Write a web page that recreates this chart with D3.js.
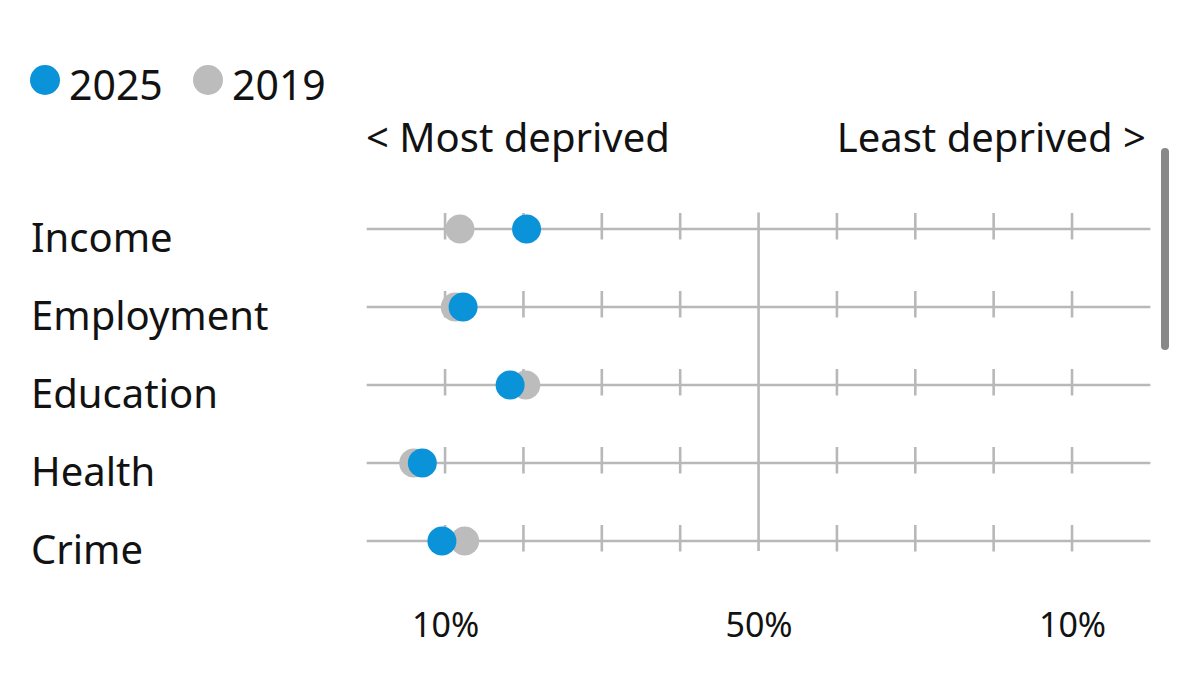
<!DOCTYPE html>
<html><head><meta charset="utf-8">
<script src="https://cdn.jsdelivr.net/npm/d3@7"></script>
<style>
html,body{margin:0;padding:0;background:#fff;overflow:hidden}
svg{display:block;font-family:"Noto Sans",sans-serif}
</style></head><body>
<svg id="c" width="1179" height="699"></svg>
<script>
const categories = ["Income","Employment","Education","Health","Crime"];
const values2019 = [11.9, 11.3, 20.3, 6.0, 12.5];
const values2025 = [20.4, 12.3, 18.3, 7.1, 9.6];
const tickValues = [10,20,30,40,50,60,70,80,90];
const tickLabels = {10:"10%", 50:"50%", 90:"10%"};
const seriesNames = ["2025","2019"];
const colors = {"2025":"#0b93da","2019":"#bcbcbc"};

const svg = d3.select("#c");
const x = d3.scaleLinear().domain([0,100]).range([366.7,1150.4]);
const y = d3.scalePoint().domain(categories).range([229,541]);
const lineColor = "#b8b8b8";
const textColor = "#121212";

// legend
const leg = svg.append("g");
seriesNames.forEach((s,i)=>{
  const lx = [45,208][i];
  leg.append("circle").attr("cx",lx).attr("cy",80).attr("r",15).attr("fill",colors[s]);
  leg.append("text").attr("x",lx+24).attr("y",100).attr("font-size",41).attr("fill",textColor).text(s);
});

svg.append("text").attr("x",366).attr("y",152).attr("font-size",40).attr("fill",textColor).text("< Most deprived");
svg.append("text").attr("x",1146).attr("y",152).attr("text-anchor","end").attr("font-size",40).attr("fill",textColor).text("Least deprived >");

// midline
svg.append("line").attr("x1",x(50)).attr("x2",x(50)).attr("y1",212.5).attr("y2",551)
  .attr("stroke",lineColor).attr("stroke-width",2.6);

const rows = svg.append("g").selectAll("g").data(categories).join("g")
  .attr("transform",d=>`translate(0,${y(d)})`);
rows.append("line").attr("x1",x(0)).attr("x2",x(100)).attr("stroke",lineColor).attr("stroke-width",2.7);
rows.each(function(){
  d3.select(this).selectAll("line.t").data(tickValues.filter(t=>t!==50)).join("line").attr("class","t")
    .attr("x1",d=>x(d)).attr("x2",d=>x(d)).attr("y1",-16).attr("y2",10.5)
    .attr("stroke",lineColor).attr("stroke-width",2.6);
});
rows.append("text").attr("x",31).attr("y",23).attr("font-size",40).attr("fill",textColor).text(d=>d);

rows.append("circle").attr("cx",(d,i)=>x(values2019[i])).attr("r",14.5).attr("fill",colors["2019"]);
rows.append("circle").attr("cx",(d,i)=>x(values2025[i])).attr("r",14.5).attr("fill",colors["2025"]);

// axis labels
const ax = svg.append("g").attr("transform","translate(0,637)");
const axis = d3.axisBottom(x).tickValues([10,50,90]).tickFormat(d=>tickLabels[d]).tickSize(0).tickPadding(0);
ax.call(axis);
ax.select(".domain").remove();
ax.selectAll("text").attr("font-size",34).attr("fill",textColor).attr("font-family","Noto Sans, sans-serif").attr("dy",0).attr("y",0);

// scrollbar
svg.append("rect").attr("x",1161).attr("y",148).attr("width",8).attr("height",202).attr("rx",4).attr("fill","#888888");
</script>
</body></html>
